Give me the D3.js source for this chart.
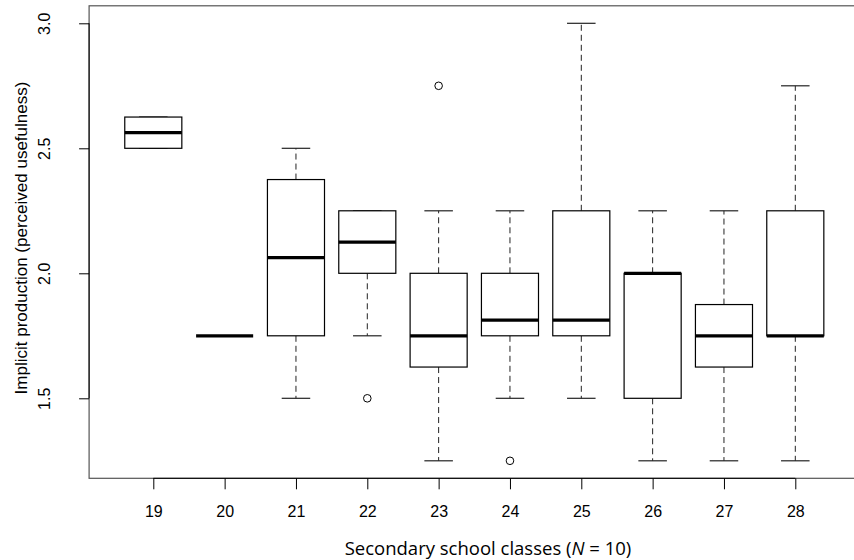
<!DOCTYPE html>
<html>
<head>
<meta charset="utf-8">
<script src="https://cdn.jsdelivr.net/npm/d3@7"></script>
<style>
  body { margin: 0; background: #fff; }
</style>
</head>
<body>
<div class="box-plot"></div>
<script>
var CLASSES = [19, 20, 21, 22, 23, 24, 25, 26, 27, 28];

// five number summary per class
var LOWER  = [2.5,   1.75, 1.5,    1.75,  1.25,  1.5,    1.5,    1.25, 1.25,  1.25];
var Q1     = [2.5,   1.75, 1.75,   2.0,   1.625, 1.75,   1.75,   1.5,  1.625, 1.75];
var MEDIAN = [2.5625,1.75, 2.0625, 2.125, 1.75,  1.8125, 1.8125, 2.0,  1.75,  1.75];
var Q3     = [2.625, 1.75, 2.375,  2.25,  2.0,   2.0,    2.25,   2.0,  1.875, 2.25];
var UPPER  = [2.625, 1.75, 2.5,    2.25,  2.25,  2.25,   3.0,    2.25, 2.25,  2.75];

var OUTLIER_CLASS = [22, 23, 24];
var OUTLIER_VALUE = [1.5, 2.75, 1.25];

var Y_TICKS = [1.5, 2.0, 2.5, 3.0];

var W = 854, H = 560;
var ARIAL = '"Liberation Sans", Arial, sans-serif';

var svg = d3.select(".box-plot").append("svg")
    .attr("width", W)
    .attr("height", H);

// R style: 4% padding each side of the data range
var x = d3.scaleLinear().domain([0.1, 10.9]).range([89.1, 859.5]);
var y = d3.scaleLinear().domain([1.18, 3.07]).range([478.3, 5.8]);

var boxHalf = 0.4, capHalf = 0.2;

var data = CLASSES.map(function (c, i) {
  return {cls: c, pos: i + 1, lo: LOWER[i], q1: Q1[i], med: MEDIAN[i], q3: Q3[i], hi: UPPER[i]};
});

// plot frame
svg.append("rect")
    .attr("x", x(0.1))
    .attr("y", y(3.07))
    .attr("width", x(10.9) - x(0.1))
    .attr("height", y(1.18) - y(3.07))
    .attr("fill", "none")
    .attr("stroke", "#555")
    .attr("stroke-width", 1.2);

var g = svg.selectAll(".box")
    .data(data)
    .enter().append("g")
    .attr("class", "box");

// whiskers (dashed)
g.filter(function (d) { return d.hi > d.q3; })
  .append("line")
    .attr("x1", function (d) { return x(d.pos); })
    .attr("x2", function (d) { return x(d.pos); })
    .attr("y1", function (d) { return y(d.q3); })
    .attr("y2", function (d) { return y(d.hi); })
    .attr("stroke", "#222").attr("stroke-dasharray", "6,4");

g.filter(function (d) { return d.lo < d.q1; })
  .append("line")
    .attr("x1", function (d) { return x(d.pos); })
    .attr("x2", function (d) { return x(d.pos); })
    .attr("y1", function (d) { return y(d.q1); })
    .attr("y2", function (d) { return y(d.lo); })
    .attr("stroke", "#222").attr("stroke-dasharray", "6,4");

// staples
["lo", "hi"].forEach(function (k) {
  g.filter(function (d) { return d.q1 !== d.q3; })
    .append("line")
      .attr("x1", function (d) { return x(d.pos - capHalf); })
      .attr("x2", function (d) { return x(d.pos + capHalf); })
      .attr("y1", function (d) { return y(d[k]); })
      .attr("y2", function (d) { return y(d[k]); })
      .attr("stroke", "#222")
      .attr("stroke-width", 1.2);
});

// boxes
g.filter(function (d) { return d.q1 !== d.q3; })
  .append("rect")
    .attr("x", function (d) { return x(d.pos - boxHalf); })
    .attr("y", function (d) { return y(d.q3); })
    .attr("width", function (d) { return x(d.pos + boxHalf) - x(d.pos - boxHalf); })
    .attr("height", function (d) { return y(d.q1) - y(d.q3); })
    .attr("fill", "#fff")
    .attr("stroke", "#000")
    .attr("stroke-width", 1.2);

// medians
g.append("line")
    .attr("x1", function (d) { return x(d.pos - boxHalf); })
    .attr("x2", function (d) { return x(d.pos + boxHalf); })
    .attr("y1", function (d) { return y(d.med); })
    .attr("y2", function (d) { return y(d.med); })
    .attr("stroke", "#000")
    .attr("stroke-width", 3.2);

// outliers
svg.selectAll(".outlier")
    .data(OUTLIER_CLASS)
    .enter().append("circle")
    .attr("class", "outlier")
    .attr("cx", function (c) { return x(CLASSES.indexOf(c) + 1); })
    .attr("cy", function (c, i) { return y(OUTLIER_VALUE[i]); })
    .attr("r", 3.8)
    .attr("fill", "none")
    .attr("stroke", "#000");

// axes
var xAxis = d3.axisBottom(x)
    .tickValues(d3.range(1, 11))
    .tickFormat(function (p) { return CLASSES[p - 1]; })
    .tickSize(11)
    .tickPadding(16)
    .tickSizeOuter(0);

var yAxis = d3.axisLeft(y)
    .tickValues(Y_TICKS)
    .tickFormat(d3.format(".1f"))
    .tickSize(10)
    .tickSizeOuter(0);

var gx = svg.append("g")
    .attr("transform", "translate(0," + y(1.18) + ")")
    .call(xAxis);
gx.select(".domain").remove();
gx.append("line")
    .attr("x1", x(1)).attr("x2", x(10))
    .attr("stroke", "#000");
gx.selectAll(".tick line").attr("stroke", "#000");
gx.selectAll(".tick text")
    .style("font-family", ARIAL)
    .style("font-size", "16px")
    .attr("fill", "#000");

var gy = svg.append("g")
    .attr("transform", "translate(" + x(0.1) + ",0)")
    .call(yAxis);
gy.select(".domain").remove();
gy.append("line")
    .attr("y1", y(1.5)).attr("y2", y(3.0))
    .attr("stroke", "#000");
gy.selectAll(".tick line").attr("stroke", "#000");
gy.selectAll(".tick text")
    .style("font-family", ARIAL)
    .style("font-size", "16px")
    .attr("fill", "#000")
    .attr("x", null).attr("dy", null)
    .attr("text-anchor", "middle")
    .attr("transform", "translate(-39,0) rotate(-90)")
    .attr("y", 0);

// axis titles
svg.append("text")
    .style("font-family", ARIAL)
    .style("font-size", "17px")
    .attr("text-anchor", "middle")
    .attr("transform", "translate(27,238) rotate(-90)")
    .text("Implicit production (perceived usefulness)");

var xl = svg.append("text")
    .style("font-family", '"Open Sans", sans-serif')
    .style("font-size", "18.5px")
    .attr("text-anchor", "middle")
    .attr("x", 488)
    .attr("y", 555);
xl.append("tspan").text("Secondary school classes (");
xl.append("tspan").attr("font-style", "italic").text("N");
xl.append("tspan").text(" = 10)");
</script>
</body>
</html>
